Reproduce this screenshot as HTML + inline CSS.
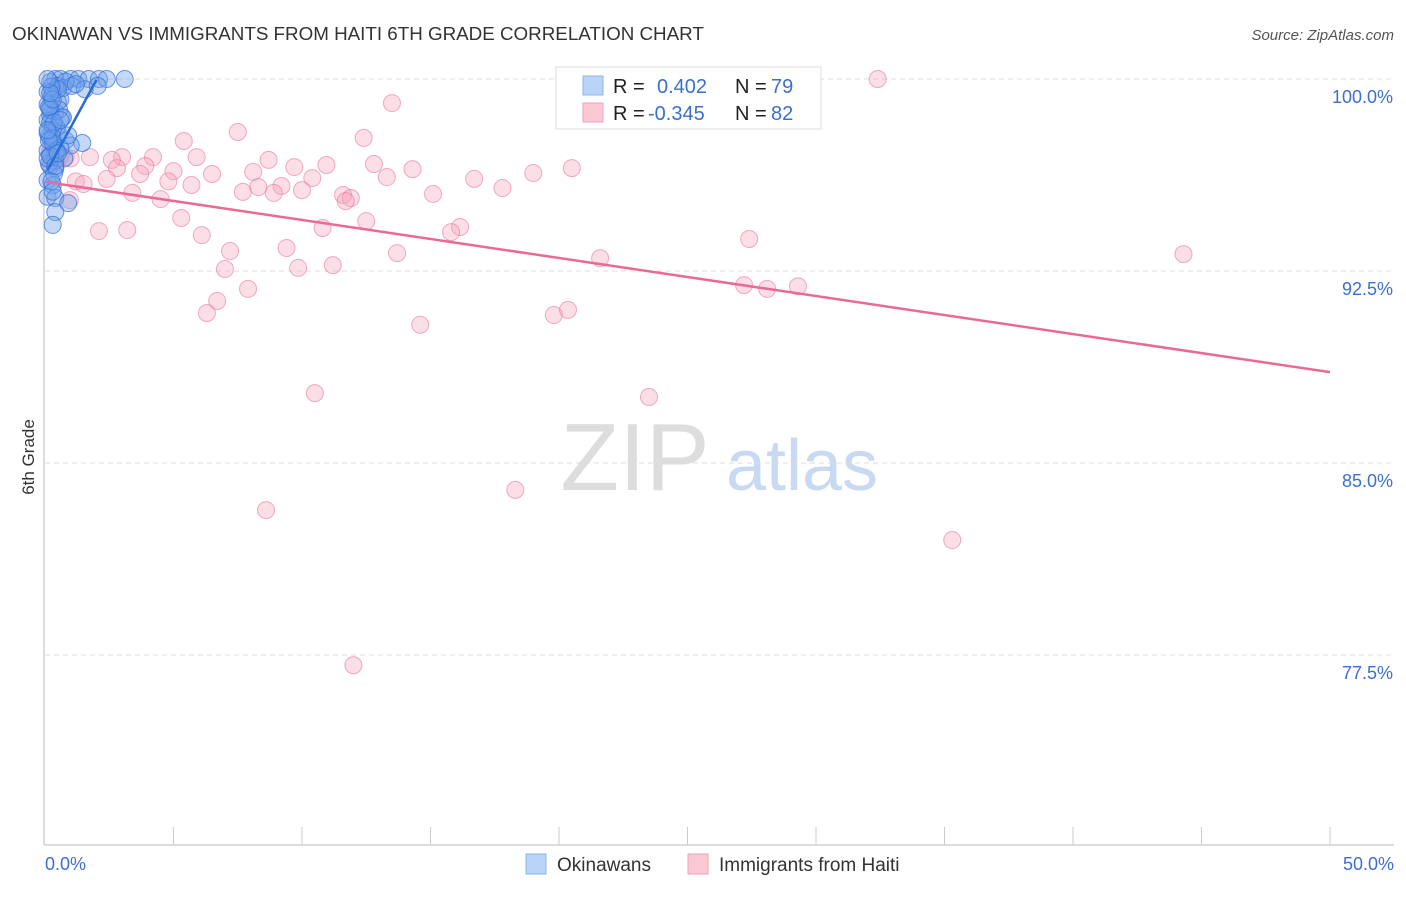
<!DOCTYPE html>
<html><head><meta charset="utf-8"><style>
body{margin:0;background:#fff;font-family:"Liberation Sans",sans-serif;}
svg text{font-family:"Liberation Sans",sans-serif;}
</style></head><body>
<svg id="chart" width="1406" height="892" viewBox="0 0 1406 892">
<text x="12" y="40" font-size="18.8" fill="#333">OKINAWAN VS IMMIGRANTS FROM HAITI 6TH GRADE CORRELATION CHART</text>
<text x="1394" y="40" font-size="15" fill="#555" font-style="italic" text-anchor="end">Source: ZipAtlas.com</text>
<text x="34" y="457" font-size="17" fill="#333" transform="rotate(-90 34 457)" text-anchor="middle">6th Grade</text>
<g>
<text x="635" y="490" font-size="96" fill="#ddd" text-anchor="middle" font-family="Liberation Serif">ZIP</text>
<text x="802" y="490" font-size="72" fill="#c8daf2" text-anchor="middle">atlas</text>
</g>
<g id="grid"></g><g id="axes"></g><g id="pts"></g><g id="trends"></g>
<g>
<rect x="556" y="67" width="265" height="62" fill="#fff" stroke="#ddd"/>
<rect x="583" y="76" width="20" height="19" fill="#b9d4f7" stroke="#8fb5e8"/>
<rect x="583" y="103" width="20" height="19" fill="#fbc8d6" stroke="#f0a0b8"/>
<text x="613" y="93" font-size="20" fill="#222">R = </text><text x="657" y="93" font-size="20" fill="#3b6fd0">0.402</text>
<text x="735" y="93" font-size="20" fill="#222">N = </text><text x="771" y="93" font-size="20" fill="#3b6fd0">79</text>
<text x="613" y="120" font-size="20" fill="#222">R = </text><text x="648" y="120" font-size="20" fill="#3b6fd0">-0.345</text>
<text x="735" y="120" font-size="20" fill="#222">N = </text><text x="771" y="120" font-size="20" fill="#3b6fd0">82</text>
</g>
<g>
<rect x="526" y="854" width="20" height="20" fill="#b9d4f7" stroke="#8fb5e8"/>
<text x="557" y="871" font-size="19" fill="#333">Okinawans</text>
<rect x="688" y="854" width="20" height="20" fill="#fbc8d6" stroke="#f0a0b8"/>
<text x="719" y="871" font-size="19" fill="#333">Immigrants from Haiti</text>
</g>
</svg>
<script>
const yTicks=[100,92.5,85,77.5];
const yTickLabels=["100.0%","92.5%","85.0%","77.5%"];
const xTickLabels=["0.0%","50.0%"];
const blueX=[3.1,0.4,0.6,1.0,1.3,1.7,2.1,2.4,0.2,0.5,0.7,1.05,1.55,2.05,0.3,0.6,0.2,0.4,0.65,0.1,0.3,0.5,0.2,0.8,1.45,1.0,0.1,0.4,0.75,0.2,0.4,0.1,0.3,0.1,0.4,0.9,0.4,0.3,0.1,0.5,0.2,0.3,0.15,0.35,0.8,1.2,0.25,0.55,0.2,0.45,0.1,0.3,0.6,0.2,0.4,0.15,0.35,0.25,0.5,0.1,0.2,0.7,0.3,0.15,0.45,0.25,0.1,0.35,0.2,0.6,0.3,0.15,0.4,0.1,0.5,0.2,0.3,0.9,0.1];
const blueY=[100,100,100,100,100,100,100,100,99.88,99.73,99.65,99.73,99.6,99.73,99.4,99.2,98.9,98.7,98.5,98.4,98.2,97.9,97.7,97.6,97.5,97.4,97.2,97.1,96.9,96.6,96.5,96.05,95.85,95.4,95.35,95.15,94.8,94.3,99.5,99.1,98.6,98.0,97.8,97.4,99.9,99.8,99.3,98.8,98.3,98.1,97.9,97.5,97.3,97.0,96.8,96.7,96.3,96.0,99.6,99.0,98.8,98.5,97.7,98.9,97.2,99.7,96.9,98.3,97.0,98.4,99.2,97.6,96.6,98.0,97.1,99.45,95.6,97.8,100];
const pinkX=[32.4,13.5,7.5,12.4,5.4,1.75,3.0,4.2,5.9,8.7,2.6,10.95,9.7,12.8,14.3,20.5,19.0,3.9,5.0,6.5,8.1,3.7,2.8,2.4,1.2,1.5,4.8,5.7,10.4,13.3,16.7,9.2,8.3,7.7,8.9,10.0,3.4,11.6,11.9,11.7,15.1,17.8,4.5,0.97,5.3,12.5,10.8,16.15,15.8,2.1,3.2,6.1,27.4,9.4,7.2,13.7,44.3,21.6,7.0,9.85,11.2,7.9,27.2,28.1,29.3,6.7,6.3,19.8,20.35,14.6,10.5,23.5,18.3,8.6,35.3,12.0,0.2,0.6,0.8,0.4,0.3,1.0];
const pinkY=[100,99.06,97.93,97.7,97.58,96.95,96.95,96.95,96.95,96.84,96.84,96.64,96.56,96.68,96.48,96.52,96.33,96.6,96.4,96.29,96.37,96.29,96.52,96.1,96.0,95.9,96.0,95.86,96.13,96.17,96.1,95.82,95.78,95.59,95.55,95.66,95.55,95.47,95.35,95.23,95.51,95.74,95.31,95.27,94.57,94.45,94.18,94.22,94.02,94.06,94.1,93.9,93.75,93.4,93.28,93.2,93.16,93.0,92.58,92.62,92.73,91.8,91.95,91.8,91.9,91.33,90.86,90.78,90.98,90.4,87.73,87.58,83.95,83.16,81.99,77.1,97.2,97.0,96.95,96.6,96.8,96.9];
const blueTrend=[[0.1,96.45],[2.0,99.96]];
const pinkTrend=[[0,95.98],[50,88.55]];
const NS="http://www.w3.org/2000/svg";
const xs=v=>45+v/50*1285;
const ys=v=>79+(100-v)*25.6;
function mk(t,a,p){const e=document.createElementNS(NS,t);for(const k in a)e.setAttribute(k,a[k]);p.appendChild(e);return e;}
const grid=document.getElementById('grid'),axes=document.getElementById('axes'),pts=document.getElementById('pts'),tr=document.getElementById('trends');
yTicks.forEach((t,i)=>{const l=mk('line',{x1:45,x2:1394,y1:ys(t),y2:ys(t),stroke:'#ddd','stroke-dasharray':'5,4'},grid);


const tx=mk('text',{x:1393,y:ys(t)+24,'font-size':18,fill:'#3b6fd0','text-anchor':'end'},axes);tx.textContent=yTickLabels[i];

});
const ax=mk('line',{x1:44,x2:44,y1:70,y2:845,stroke:'#bbb'},axes);


const bx=mk('line',{x1:44,x2:1394,y1:845,y2:845,stroke:'#bbb'},axes);


for(let i=1;i<=10;i++){const tk=mk('line',{x1:xs(i*5),x2:xs(i*5),y1:827,y2:845,stroke:'#ccc'},axes);

}
[[0,'start',45],[50,'end',1394]].forEach((d,i)=>{const tx=mk('text',{x:d[2],y:870,'font-size':18,fill:'#3b6fd0','text-anchor':d[1]},axes);tx.textContent=xTickLabels[i];

});
pinkX.forEach((x,i)=>{const c=mk('circle',{cx:xs(x),cy:ys(pinkY[i]),r:8.5,fill:'rgba(246,160,186,0.35)',stroke:'rgba(232,120,155,0.6)','stroke-width':1},pts);

});
blueX.forEach((x,i)=>{const c=mk('circle',{cx:xs(x),cy:ys(blueY[i]),r:8.5,fill:'rgba(110,160,235,0.4)',stroke:'rgba(50,110,215,0.7)','stroke-width':1},pts);

});
const pl=mk('line',{x1:xs(pinkTrend[0][0]),y1:ys(pinkTrend[0][1]),x2:xs(pinkTrend[1][0]),y2:ys(pinkTrend[1][1]),stroke:'#e86a95','stroke-width':2.5},tr);


const bl=mk('line',{x1:xs(blueTrend[0][0]),y1:ys(blueTrend[0][1]),x2:xs(blueTrend[1][0]),y2:ys(blueTrend[1][1]),stroke:'#2a6bd6','stroke-width':2.5},tr);


</script>
</body></html>
